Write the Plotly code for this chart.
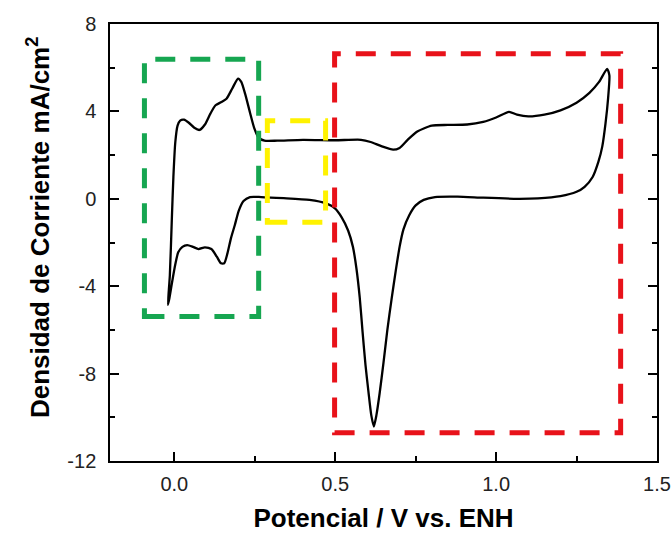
import plotly.graph_objects as go

# Anodic (forward) scan: potential (V vs. ENH) and current density (mA/cm2)
anodic_v = [-0.020, -0.014, -0.008, -0.003, 0.003, 0.010, 0.018, 0.030, 0.045, 0.062,
            0.078, 0.095, 0.112, 0.128, 0.145, 0.162, 0.180, 0.198, 0.208, 0.220,
            0.235, 0.248, 0.262, 0.280, 0.320, 0.400, 0.500, 0.580, 0.610, 0.645,
            0.680, 0.700, 0.725, 0.755, 0.800, 0.850, 0.910, 0.960, 1.000, 1.040,
            1.065, 1.100, 1.150, 1.200, 1.250, 1.290, 1.320, 1.345]
anodic_i = [-4.85, -3.50, -1.00, 1.00, 2.60, 3.35, 3.58, 3.62, 3.48, 3.25,
            3.15, 3.40, 3.90, 4.28, 4.42, 4.58, 5.05, 5.50, 5.35, 4.80,
            3.95, 3.25, 2.80, 2.66, 2.66, 2.70, 2.68, 2.70, 2.60, 2.40,
            2.25, 2.33, 2.70, 3.08, 3.35, 3.38, 3.40, 3.52, 3.72, 3.98,
            3.85, 3.77, 3.85, 4.05, 4.40, 4.85, 5.35, 5.95]

# Cathodic (reverse) scan
cathodic_v = [1.352, 1.348, 1.340, 1.330, 1.318, 1.300, 1.275, 1.250, 1.200, 1.130,
              1.066, 0.960, 0.880, 0.810, 0.775, 0.750, 0.730, 0.712, 0.700, 0.688,
              0.675, 0.662, 0.650, 0.638, 0.628, 0.620, 0.612, 0.603, 0.594, 0.585,
              0.576, 0.566, 0.555, 0.540, 0.520, 0.500, 0.470, 0.420, 0.340, 0.270,
              0.235, 0.215, 0.200, 0.188, 0.176, 0.165, 0.155, 0.145, 0.132, 0.115,
              0.095, 0.075, 0.058, 0.040, 0.025, 0.012, 0.003, -0.008, -0.016, -0.020]
cathodic_i = [5.65, 4.60, 3.45, 2.40, 1.70, 1.00, 0.55, 0.32, 0.12, 0.02,
              0.00, 0.05, 0.10, 0.08, -0.05, -0.30, -0.75, -1.40, -2.20, -3.30,
              -4.60, -6.00, -7.50, -8.90, -9.90, -10.42, -9.90, -8.80, -7.60, -6.10,
              -4.50, -3.20, -2.20, -1.45, -0.85, -0.45, -0.20, -0.05, 0.03, 0.08,
              0.08, -0.10, -0.55, -1.20, -1.80, -2.50, -2.95, -2.95, -2.65, -2.30,
              -2.22, -2.30, -2.20, -2.12, -2.20, -2.45, -3.00, -3.90, -4.60, -4.85]

# Highlight regions (x0, x1, y0, y1) in data units
region_green = [-0.093, 0.262, -5.39, 6.39]
region_yellow = [0.289, 0.470, -1.07, 3.57]
region_red = [0.498, 1.387, -10.71, 6.64]

x_ticks = [0.0, 0.5, 1.0, 1.5]
y_ticks = [-12, -8, -4, 0, 4, 8]
y_ticktext = ["-12", "-8", "-4", "0", "4", "8"]

x_title = "<b>Potencial / V vs. ENH</b>"
y_title = "<b>Densidad de Corriente mA/cm<sup>2</sup></b>"

FONT = "Liberation Sans, Arial, sans-serif"

fig = go.Figure()
fig.add_trace(go.Scatter(
    x=anodic_v + cathodic_v, y=anodic_i + cathodic_i,
    mode="lines", line=dict(color="black", width=2.3, shape="spline", smoothing=0.6),
    showlegend=False, hoverinfo="skip"))

for reg, col in [(region_green, "#16a651"), (region_yellow, "#fff200"), (region_red, "#e8121a")]:
    fig.add_shape(type="rect", xref="x", yref="y",
                  x0=reg[0], x1=reg[1], y0=reg[2], y1=reg[3],
                  line=dict(color=col, width=5, dash="20px,15px"),
                  fillcolor="rgba(0,0,0,0)", layer="above")

fig.add_annotation(
    text=y_title, textangle=-90, showarrow=False,
    xref="paper", x=0, xanchor="center", xshift=-72,
    yref="paper", y=0.533, yanchor="middle",
    font=dict(family=FONT, size=26, color="black"))

fig.update_layout(
    width=672, height=533,
    margin=dict(l=110, r=15, t=24, b=72),
    paper_bgcolor="white", plot_bgcolor="white",
    font=dict(family=FONT, size=20, color="#222"),
    xaxis=dict(
        range=[-0.2, 1.5], tickvals=x_ticks, tickformat=".1f", automargin=False,
        tickfont=dict(size=20, color="#222"),
        ticks="inside", ticklen=9, tickwidth=1.5, tickcolor="black",
        minor=dict(tickvals=[0.25, 0.75, 1.25], ticks="inside", ticklen=5,
                   tickwidth=1.5, tickcolor="black"),
        showline=True, linecolor="black", linewidth=1.5, mirror=True,
        showgrid=False, zeroline=False, ticklabelstandoff=4,
        title=dict(text=x_title, font=dict(size=26, color="black"), standoff=16),
    ),
    xaxis2=dict(
        overlaying="x", side="top", range=[0, 5], tickvals=[1, 2, 3, 4],
        ticks="inside", ticklen=9, tickwidth=1.5, tickcolor="black",
        minor=dict(tickvals=[0.5, 1.5, 2.5, 3.5, 4.5], ticks="inside", ticklen=5,
                   tickwidth=1.5, tickcolor="black"),
        showticklabels=False, showline=False, showgrid=False, zeroline=False,
    ),
    yaxis=dict(
        range=[-12, 8], tickvals=y_ticks, ticktext=y_ticktext, automargin=False,
        tickfont=dict(size=20, color="#222"),
        ticks="inside", ticklen=9, tickwidth=1.5, tickcolor="black",
        minor=dict(tickvals=[-10, -6, -2, 2, 6], ticks="inside", ticklen=5,
                   tickwidth=1.5, tickcolor="black"),
        showline=True, linecolor="black", linewidth=1.5, mirror="ticks",
        showgrid=False, zeroline=False, ticklabelstandoff=8,
    ),
)

fig.write_html("out.html")
